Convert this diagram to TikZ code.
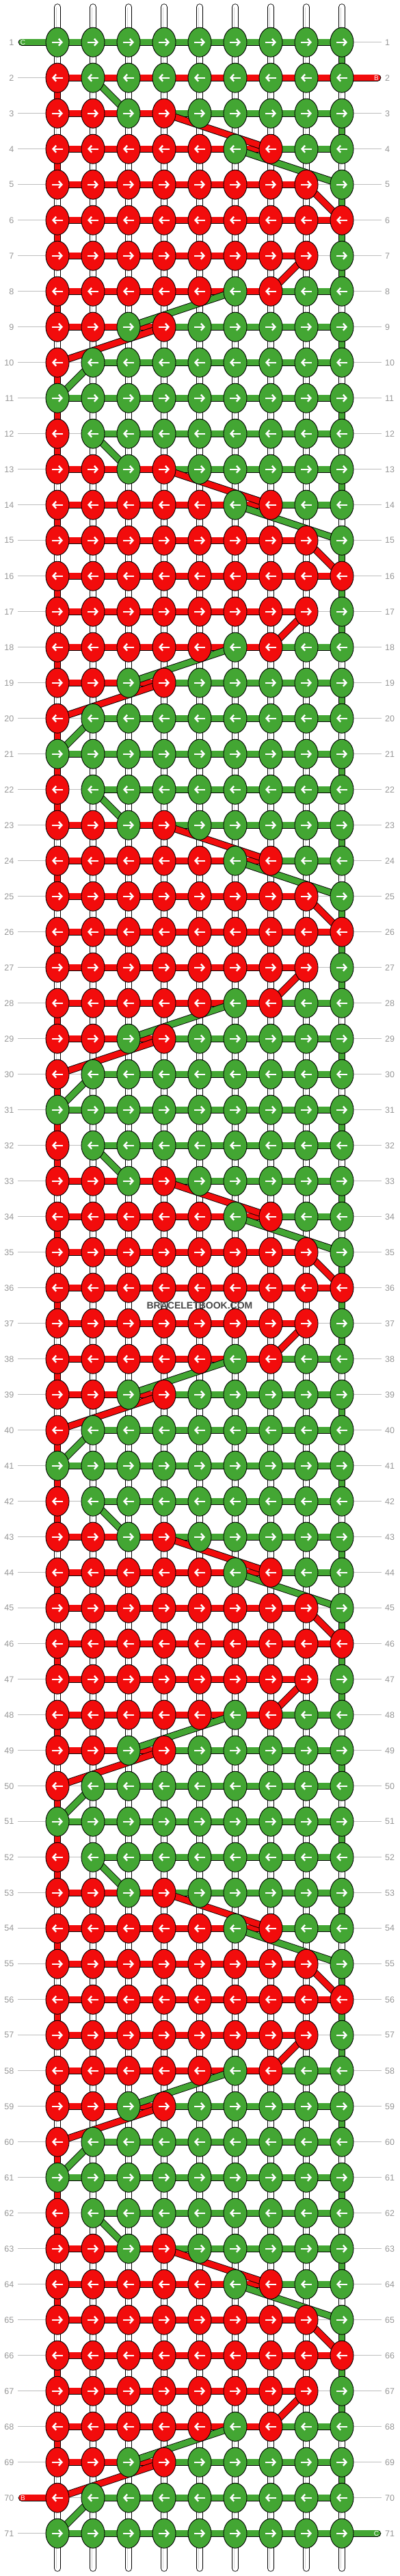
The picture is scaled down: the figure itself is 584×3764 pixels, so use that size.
\documentclass[tikz,border=0pt]{standalone}
\usepackage{fontspec}
\setmainfont{Liberation Sans}
\usetikzlibrary{shapes.geometric,arrows.meta}

\definecolor{cG}{RGB}{67,166,51}
\definecolor{cR}{RGB}{242,12,12}
\definecolor{numgray}{RGB}{150,150,150}
\definecolor{linegray}{RGB}{190,190,190}

\pgfdeclarelayer{rules}
\pgfdeclarelayer{strands}
\pgfdeclarelayer{links}
\pgfsetlayers{rules,strands,links,main}

\tikzset{
  knot/.style={ellipse,draw=black,line width=0.9pt,fill=c#1,minimum width=34pt,minimum height=43pt,inner sep=0pt},
  knotarrow/.style={white,line width=2.4pt,-{Straight Barb[length=4.5pt,width=10pt]}},
  fwd/.style={path picture={\draw[knotarrow] ([xshift=-8pt]path picture bounding box.center) -- ([xshift=8pt]path picture bounding box.center);}},
  bwd/.style={path picture={\draw[knotarrow] ([xshift=8pt]path picture bounding box.center) -- ([xshift=-8pt]path picture bounding box.center);}},
  link/.style={draw=black,line width=0.9pt,double=#1,double distance=8.6pt},
  strand/.style={link=white,line cap=round},
  rowlabel/.style={text=numgray,font=\fontsize{12.5}{14}\selectfont,inner sep=0pt},
  taillabel/.style={text=white,font=\fontsize{10}{12}\selectfont,inner sep=0pt},
  watermark/.style={text=black!72,font=\bfseries\fontsize{14}{16}\selectfont,inner sep=0pt}
}

% one repeat of ten rows: knot colours / links between neighbours (N = none)
\def\rowtable{1/{G,G,G,G,G,G,G,G,G}/{G,G,G,G,G,G,G,G},
  2/{R,G,G,G,G,G,G,G,G}/{N,G,G,G,G,G,G,G},
  3/{R,R,G,R,G,G,G,G,G}/{R,R,R,G,G,G,G,G},
  4/{R,R,R,R,R,G,R,G,G}/{R,R,R,R,R,R,G,G},
  5/{R,R,R,R,R,R,R,R,G}/{R,R,R,R,R,R,R,N},
  6/{R,R,R,R,R,R,R,R,R}/{R,R,R,R,R,R,R,R},
  7/{R,R,R,R,R,R,R,R,G}/{R,R,R,R,R,R,R,N},
  8/{R,R,R,R,R,G,R,G,G}/{R,R,R,R,R,R,G,G},
  9/{R,R,G,R,G,G,G,G,G}/{R,R,R,G,G,G,G,G},
  10/{R,G,G,G,G,G,G,G,G}/{N,G,G,G,G,G,G,G}}

\begin{document}
\begin{tikzpicture}[x=1pt,y=-1pt]
    \useasboundingbox (0,0) rectangle (584,3764);

    % row numbers
    \foreach \r in {1,...,71}
    {
        \node[rowlabel,anchor=east] (nl-\r) at (20.5,{9.7+52*\r}) {\r};
        \node[rowlabel,anchor=west] (nr-\r) at (563,{9.7+52*\r}) {\r};
    }
    \begin{pgfonlayer}{rules}
        \foreach \r in {1,...,71}
            \draw[linegray,line width=0.8pt] ([xshift=5.5pt]nl-\r.east) -- ([xshift=-5pt]nr-\r.west);
    \end{pgfonlayer}

    % white strands
    \begin{pgfonlayer}{strands}
        \foreach \j in {1,...,9}
        {
            \coordinate (top-\j) at ({32+52*\j},10.5);
            \coordinate (bot-\j) at ({32+52*\j},3752.5);
            \draw[strand] (top-\j) -- (bot-\j);
            \draw[linegray!70,line width=0.7pt] ([xshift=-2pt]top-\j) -- ([xshift=-2pt]bot-\j);
        }
    \end{pgfonlayer}

    % knots
    \foreach \blk in {0,...,7}
    {
        \foreach \p/\kn/\hz in \rowtable
        {
            \pgfmathtruncatemacro\r{10*\blk+\p}
            \ifnum\r<72
                \ifodd\r \def\dirstyle{fwd}\else \def\dirstyle{bwd}\fi
                \foreach \kc [count=\j] in \kn
                {
                    \node[knot=\kc,\dirstyle] (k-\r-\j) at ({32+52*\j},{9.7+52*\r}) {};
                }
            \fi
        }
    }

    % loose ends
    \node[taillabel] (tC1) at (33.5,61.7) {C};
    \node[taillabel] (tB2) at (550.5,113.7) {B};
    \node[taillabel] (tB70) at (33.5,3649.7) {B};
    \node[taillabel] (tC71) at (550.5,3701.7) {C};

    \begin{pgfonlayer}{links}
        % links along the rows
        \foreach \blk in {0,...,7}
        {
            \foreach \p/\kn/\hz in \rowtable
            {
                \pgfmathtruncatemacro\r{10*\blk+\p}
                \ifnum\r<72
                    \ifnum\r=2 \def\hz{R,R,R,R,R,R,R,R}\fi
                    \foreach \hc [count=\j] in \hz
                    {
                        \pgfmathtruncatemacro\jj{\j+1}
                        \if N\hc\else
                            \draw[link=c\hc] (k-\r-\j.center) -- (k-\r-\jj.center);
                        \fi
                    }
                \fi
            }
        }

        % links down the edges (W = white strand shows)
        \foreach \blk in {0,...,6}
        {
            \foreach \p/\va/\vb in {1/R/G,2/R/W,3/W/G,4/R/W,5/W/G,6/R/G,7/W/G,8/R/W,9/W/G,10/R/W}
            {
                \pgfmathtruncatemacro\r{10*\blk+\p}
                \pgfmathtruncatemacro\rr{\r+1}
                \ifnum\r=1 \def\va{W}\fi
                \ifnum\r=70 \def\va{W}\fi
                \if W\va\else \draw[link=c\va] (k-\r-1.center) -- (k-\rr-1.center);\fi
                \if W\vb\else \draw[link=c\vb] (k-\r-9.center) -- (k-\rr-9.center);\fi
            }
        }

        % slanted links
        \foreach \blk in {0,...,6}
        {
            \foreach \p/\a/\b/\dc in {2/2/3/G,3/4/7/R,4/6/9/G,5/8/9/R,7/8/7/R,8/6/3/G,9/4/1/R,10/2/1/G}
            {
                \pgfmathtruncatemacro\r{10*\blk+\p}
                \pgfmathtruncatemacro\rr{\r+1}
                \draw[link=c\dc] (k-\r-\a.center) -- (k-\rr-\b.center);
            }
        }

        \draw[link=cG,line cap=round] (k-1-1.center) -- ([xshift=-1.5pt]tC1.center);
        \draw[link=cR,line cap=round] (k-2-9.center) -- ([xshift=1.5pt]tB2.center);
        \draw[link=cR,line cap=round] (k-70-1.center) -- ([xshift=-1.5pt]tB70.center);
        \draw[link=cG,line cap=round] (k-71-9.center) -- ([xshift=1.5pt]tC71.center);
    \end{pgfonlayer}

    \node[watermark] (wm) at (292,1908) {BRACELETBOOK.COM};
\end{tikzpicture}
\end{document}
